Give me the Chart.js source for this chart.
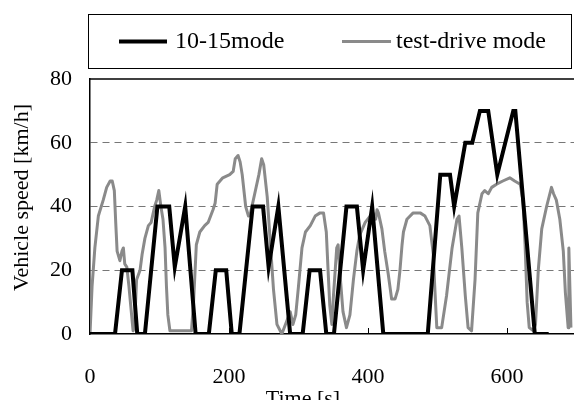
<!DOCTYPE html>
<html>
<head>
<meta charset="utf-8">
<script src="https://cdn.jsdelivr.net/npm/chart.js@4/dist/chart.umd.min.js"></script>
<style>
  html, body { margin: 0; padding: 0; background: #fff; overflow: hidden; width: 574px; height: 400px; }
  canvas { display: block; }
</style>
</head>
<body>
<canvas id="c" width="580" height="400"></canvas>
<script>
// ---- data ----
const seriesLabels = ['10-15mode', 'test-drive mode'];
const xTicks = [0, 200, 400, 600];
const yTicks = [0, 20, 40, 60, 80];

const modeTime  = [0, 36, 46, 61, 68, 79, 97, 114, 122, 137, 152,
                   171, 181, 196, 204, 215, 234, 249, 257, 271, 288,
                   306, 316, 331, 340, 351, 369, 384, 393, 406, 422,
                   486, 504, 518, 524, 540, 550, 561, 573, 586, 609, 612, 640, 660];
const modeSpeed = [0, 0, 20, 20, 0, 0, 40, 40, 21, 40, 0,
                   0, 20, 20, 0, 0, 40, 40, 21, 40, 0,
                   0, 20, 20, 0, 0, 40, 40, 20, 40, 0,
                   0, 50, 50, 40, 60, 60, 70, 70, 50, 70, 70, 0, 0];

const testTime  = [0, 3, 7, 12, 19, 24, 29, 32, 35, 37, 39, 43, 46, 48, 50, 53, 56, 59, 62, 64,
                   67, 72, 75, 79, 84, 88, 93, 96, 99, 102, 105, 108, 110, 112, 115, 130, 146, 149,
                   153, 158, 165, 170, 177, 180, 183, 191, 201, 206, 209, 213, 216, 219, 224, 228,
                   231, 237, 243, 247, 250, 255, 259, 264, 269, 276, 283, 288, 292, 296, 300, 305,
                   310, 317, 324, 331, 336, 340, 343, 345, 348, 350, 355, 357, 360, 364, 369, 374,
                   379, 384, 388, 396, 403, 407, 411, 413, 415, 420, 424, 429, 434, 439, 443, 446,
                   449, 451, 456, 465, 475, 482, 489, 494, 496, 499, 506, 513, 521, 528, 531, 535,
                   540, 544, 549, 554, 558, 564, 568, 573, 578, 585, 594, 604, 611, 619, 623, 626,
                   629, 632, 638, 641, 645, 650, 657, 664, 667, 671, 676, 681, 684, 688, 689, 692];
const testSpeed = [0, 15, 27, 37, 42, 46, 48, 48, 45, 35, 26, 23, 26, 27, 22, 21, 15, 8, 1, 2,
                   17, 20, 25, 30, 34, 35, 40, 42, 45, 40, 36, 27, 15, 6, 1, 1, 1, 10,
                   28, 32, 34, 35, 39, 41, 47, 49, 50, 51, 55, 56, 54, 50, 40, 37,
                   38, 44, 50, 55, 53, 43, 30, 14, 3, 0, 4, 7, 3, 6, 15, 27,
                   32, 34, 37, 38, 38, 32, 18, 9, 3, 11, 27, 28, 18, 7, 2, 6,
                   17, 26, 31, 35, 37, 38, 36, 39, 38, 33, 26, 19, 11, 11, 14, 20,
                   28, 32, 36, 38, 38, 37, 34, 25, 15, 2, 2, 12, 27, 36, 37, 27,
                   12, 2, 1, 17, 38, 44, 45, 44, 46, 47, 48, 49, 48, 47, 42, 28,
                   10, 2, 1, 3, 20, 33, 40, 46, 44, 42, 36, 26, 13, 2, 27, 2];

const toPoints = (xs, ys) => xs.map((x, i) => ({ x: x, y: ys[i] }));

const FONT = '"Liberation Serif", "Times New Roman", serif';

const decor = {
  id: 'decor',
  beforeDatasetsDraw(chart) {
    const { ctx, chartArea: a, scales } = chart;
    ctx.save();
    ctx.strokeStyle = '#000';
    ctx.lineWidth = 1.5;
    ctx.beginPath();
    ctx.moveTo(a.left, a.top);
    ctx.lineTo(a.right, a.top);
    ctx.stroke();
    ctx.lineWidth = 1;
    xTicks.forEach(v => {
      const px = Math.round(scales.x.getPixelForValue(v)) + 0.5;
      ctx.beginPath();
      ctx.moveTo(px, a.bottom);
      ctx.lineTo(px, a.bottom - 6);
      ctx.stroke();
    });
    ctx.restore();
  },
  afterDraw(chart) {
    const { ctx } = chart;
    const ds = chart.data.datasets;
    ctx.save();
    // legend box
    ctx.strokeStyle = '#000';
    ctx.lineWidth = 1;
    ctx.strokeRect(88.5, 14.5, 483, 54);
    const items = [
      { x0: 119, x1: 167, tx: 175 },
      { x0: 342, x1: 391, tx: 396 }
    ];
    ctx.font = '24px ' + FONT;
    ctx.textBaseline = 'middle';
    ctx.textAlign = 'left';
    items.forEach((it, i) => {
      ctx.strokeStyle = ds[i].borderColor;
      ctx.lineWidth = ds[i].borderWidth;
      ctx.beginPath();
      ctx.moveTo(it.x0, 41.5);
      ctx.lineTo(it.x1, 41.5);
      ctx.stroke();
      ctx.fillStyle = '#000';
      ctx.fillText(ds[i].label, it.tx, 41.5);
    });
    // axis titles
    ctx.font = '22px ' + FONT;
    ctx.fillStyle = '#000';
    ctx.textAlign = 'center';
    ctx.textBaseline = 'alphabetic';
    ctx.fillText('Time [s]', 303, 405);
    ctx.translate(28, 197.5);
    ctx.rotate(-Math.PI / 2);
    ctx.fillText('Vehicle speed [km/h]', 0, 0);
    ctx.restore();
  }
};

new Chart(document.getElementById('c'), {
  type: 'line',
  data: {
    datasets: [
      {
        label: seriesLabels[0],
        data: toPoints(modeTime, modeSpeed),
        borderColor: '#000000',
        borderWidth: 4,
        pointRadius: 0,
        tension: 0,
        fill: false,
        borderJoinStyle: 'miter'
      },
      {
        label: seriesLabels[1],
        data: toPoints(testTime, testSpeed),
        borderColor: '#8a8a8a',
        borderWidth: 3,
        pointRadius: 0,
        tension: 0,
        fill: false,
        borderJoinStyle: 'round'
      }
    ]
  },
  options: {
    responsive: false,
    animation: false,
    events: [],
    layout: { padding: { left: 50, right: 3.5, top: 79, bottom: 0 } },
    plugins: { legend: { display: false }, tooltip: { enabled: false } },
    scales: {
      x: {
        type: 'linear',
        min: 0,
        max: 700,
        afterBuildTicks: s => { s.ticks = xTicks.map(v => ({ value: v })); },
        afterFit: s => { s.height = 66; },
        ticks: { font: { family: FONT, size: 22 }, color: '#000', padding: 30, maxRotation: 0 },
        grid: { display: false, drawTicks: false },
        border: { display: true, color: '#000', width: 1.5 }
      },
      y: {
        type: 'linear',
        min: 0,
        max: 80,
        afterBuildTicks: s => { s.ticks = yTicks.map(v => ({ value: v })); },
        afterFit: s => { s.width = 40; },
        ticks: { font: { family: FONT, size: 22 }, color: '#000', padding: 18 },
        grid: {
          drawTicks: false,
          color: c => (c.tick && (c.tick.value === 0 || c.tick.value === 80)) ? 'rgba(0,0,0,0)' : '#777',
          lineWidth: 1
        },
        border: { display: true, color: '#000', width: 1.5, dash: [7, 5] }
      }
    }
  },
  plugins: [decor]
});
</script>
</body>
</html>
